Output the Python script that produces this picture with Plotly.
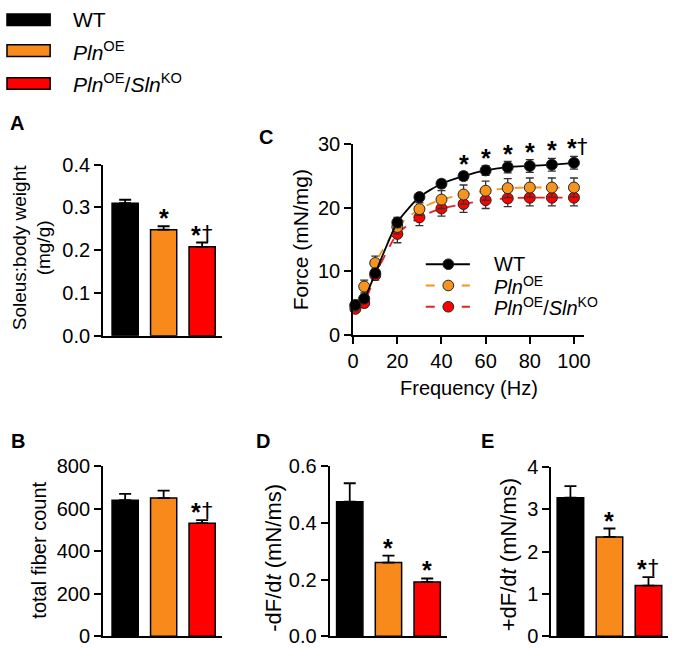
import plotly.graph_objects as go

# ---------------- data ----------------
groups = ["WT", "Pln OE", "Pln OE / Sln KO"]
group_x = [0, 1, 2]
bar_colors = ["#000000", "#F88A1C", "#FF0000"]

soleus = [0.310, 0.248, 0.208]
soleus_err = [0.008, 0.008, 0.010]
soleus_sig = ["", "*", "*†"]

fiber = [640, 650, 532]
fiber_err = [30, 35, 15]
fiber_sig = ["", "", "*†"]

neg_dfdt = [0.475, 0.260, 0.192]
neg_dfdt_err = [0.065, 0.025, 0.012]
neg_dfdt_sig = ["", "*", "*"]

pos_dfdt = [3.28, 2.35, 1.20]
pos_dfdt_err = [0.27, 0.20, 0.20]
pos_dfdt_sig = ["", "*", "*†"]

freq = [1, 5, 10, 20, 30, 40, 50, 60, 70, 80, 90, 100]
force_wt = [4.7, 5.7, 9.7, 17.7, 21.7, 23.8, 25.0, 25.9, 26.4, 26.6, 26.8, 27.1]
force_wt_err = [0.4, 0.5, 0.6, 0.8, 0.5, 0.6, 0.66, 0.76, 0.9, 1.0, 1.0, 1.0]
force_oe = [4.6, 7.6, 11.3, 17.0, 19.8, 21.3, 22.1, 22.7, 23.1, 23.2, 23.2, 23.2]
force_oe_err = [0.5, 1.0, 1.1, 1.1, 1.0, 1.4, 1.5, 1.5, 1.5, 1.5, 1.5, 1.5]
force_ko = [4.1, 5.0, 9.4, 15.9, 18.5, 19.9, 20.6, 21.2, 21.5, 21.6, 21.6, 21.6]
force_ko_err = [0.3, 0.5, 0.8, 1.4, 1.3, 1.2, 1.3, 1.3, 1.3, 1.3, 1.3, 1.3]
force_sig_x = [50, 60, 70, 80, 90, 100]
force_sig = ["*", "*", "*", "*", "*", "*†"]

W, H = 675, 657
FONT = "Liberation Sans, Arial, Helvetica, sans-serif"
FS = 20

def px(x):
    return x / W

def py(y):
    return 1 - y / H

def sig_annots(s, x, y, xref, yref, star_dx, dag_dx):
    out = []
    if "*" in s:
        out.append(dict(x=x, y=y, xref=xref, yref=yref, text="<b>*</b>", showarrow=False,
                        xshift=star_dx if "†" in s else 0, yanchor="bottom", yshift=-8,
                        font=dict(size=25, color="#000000", family=FONT)))
    if "†" in s:
        out.append(dict(x=x, y=y, xref=xref, yref=yref, text="†", showarrow=False,
                        xshift=dag_dx, yanchor="bottom", yshift=-5,
                        font=dict(size=21, color="#000000", family="DejaVu Sans, " + FONT)))
    return out

fig = go.Figure()

# ---------------- bar panels ----------------
panels = [
    ("x", "y", soleus, soleus_err, soleus_sig),
    ("x3", "y3", fiber, fiber_err, fiber_sig),
    ("x4", "y4", neg_dfdt, neg_dfdt_err, neg_dfdt_sig),
    ("x5", "y5", pos_dfdt, pos_dfdt_err, pos_dfdt_sig),
]
annotations = []
for xa, ya, vals, errs, sig in panels:
    fig.add_trace(go.Bar(
        x=group_x, y=vals, xaxis=xa, yaxis=ya, width=0.68,
        marker=dict(color=bar_colors, line=dict(color="#000000", width=1.5)),
        error_y=dict(type="data", array=errs, arrayminus=[0] * len(errs), symmetric=False,
                     color="#000000", thickness=1.8, width=6),
        showlegend=False, hoverinfo="skip", cliponaxis=False,
    ))
    for gx, v, e, s in zip(group_x, vals, errs, sig):
        annotations += sig_annots(s, gx, v + e, xa, ya, -6, 5)

# ---------------- line panel C ----------------
series = [
    (force_wt, force_wt_err, "#000000", "#000000", "solid"),
    (force_oe, force_oe_err, "#F7941D", "#F7941D", "dash"),
    (force_ko, force_ko_err, "#FF0000", "#E8202A", "dash"),
]
for vals, errs, fill, lc, dash in reversed(series):
    fig.add_trace(go.Scatter(
        x=freq, y=vals, xaxis="x2", yaxis="y2", mode="lines+markers",
        line=dict(color=lc, width=1.8, dash=dash, shape="spline", smoothing=0.6),
        marker=dict(size=11, color=fill, line=dict(color="#222222", width=1)),
        error_y=dict(type="data", array=errs, color="#333333", thickness=1.3, width=4),
        showlegend=False, hoverinfo="skip", cliponaxis=False,
    ))
wt_lookup = dict(zip(freq, zip(force_wt, force_wt_err)))
for fx, s in zip(force_sig_x, force_sig):
    v, e = wt_lookup[fx]
    annotations += sig_annots(s, fx, v + e, "x2", "y2", -2, 9)

# ---------------- axes ----------------
axis_common = dict(showline=True, linecolor="#000000", linewidth=2, ticks="outside",
                   ticklen=7, tickwidth=2, tickcolor="#000000", showgrid=False, zeroline=False,
                   tickfont=dict(size=FS, color="#000000", family=FONT), fixedrange=True)
xbar_common = dict(showline=True, linecolor="#000000", linewidth=2, showticklabels=False,
                   ticks="", showgrid=False, zeroline=False, fixedrange=True)

layout = dict(
    width=W, height=H, margin=dict(l=0, r=0, t=0, b=0),
    paper_bgcolor="white", plot_bgcolor="white", bargap=0,
    font=dict(family=FONT, size=FS, color="#000000"),
    xaxis=dict(domain=[px(99), px(220)], range=[-0.573, 2.51], anchor="y", **xbar_common),
    yaxis=dict(domain=[py(336), py(159)], range=[0, 0.4], tickvals=[0, 0.1, 0.2, 0.3, 0.4],
               tickformat=".1f", anchor="x", **axis_common),
    xaxis2=dict(domain=[px(354), px(589)], range=[0, 104.4], tickvals=[0, 20, 40, 60, 80, 100],
                anchor="y2", **axis_common),
    yaxis2=dict(domain=[py(335), py(138)], range=[0, 30], tickvals=[0, 10, 20, 30],
                anchor="x2", **axis_common),
    xaxis3=dict(domain=[px(99), px(220)], range=[-0.573, 2.51], anchor="y3", **xbar_common),
    yaxis3=dict(domain=[py(647), py(471)], range=[0, 800], tickvals=[0, 200, 400, 600, 800],
                anchor="x3", **axis_common),
    xaxis4=dict(domain=[px(330), px(450)], range=[-0.519, 2.52], anchor="y4", **xbar_common),
    yaxis4=dict(domain=[py(647), py(471)], range=[0, 0.6], tickvals=[0, 0.2, 0.4, 0.6],
                tickformat=".1f", anchor="x4", **axis_common),
    xaxis5=dict(domain=[px(556), px(675)], range=[-0.49, 2.5], anchor="y5", **xbar_common),
    yaxis5=dict(domain=[py(647), py(472)], range=[0, 4], tickvals=[0, 1, 2, 3, 4],
                anchor="x5", **axis_common),
)

def txt(x, y, text, size=FS, angle=0, xanchor="center", bold=False):
    t = "<b>" + text + "</b>" if bold else text
    return dict(x=px(x), y=py(y), xref="paper", yref="paper", text=t, showarrow=False,
                textangle=angle, xanchor=xanchor, yanchor="middle",
                font=dict(size=size, color="#000000", family=FONT))

# panel letters
annotations += [
    txt(11, 116, "A", bold=True), txt(265, 130, "C", bold=True),
    txt(12, 445, "B", bold=True), txt(262, 445, "D", bold=True), txt(491, 445, "E", bold=True),
]
# axis titles
annotations += [
    txt(26, 245, "Soleus:body weight<br>(mg/g)", size=19, angle=-90),
    txt(300, 237, "Force (mN/mg)", size=21, angle=-90),
    txt(472, 390, "Frequency (Hz)"),
    txt(34, 558, "total fiber count", angle=-90),
    txt(272, 566, "-dF/d<i>t</i> (mN/ms)", size=22, angle=-90),
    txt(512, 563, "+dF/d<i>t</i> (mN/ms)", size=22, angle=-90),
]

legend_labels = ["WT", "<i>Pln</i><sup>OE</sup>", "<i>Pln</i><sup>OE</sup>/<i>Sln</i><sup>KO</sup>"]

# top legend (swatches + labels)
shapes = []
top_rows = [9, 41, 75]
for lab, col, yy in zip(legend_labels, bar_colors, top_rows):
    shapes.append(dict(type="rect", xref="paper", yref="paper", x0=px(1), x1=px(45),
                       y0=py(yy + 6), y1=py(yy - 6), fillcolor=col,
                       line=dict(color="#000000", width=1.5)))
    annotations.append(txt(66, yy, lab, size=21, xanchor="left"))

# panel C legend
c_rows = [262, 284, 306]
for (vals, errs, fill, lc, dash), lab, yy in zip(series, legend_labels, c_rows):
    shapes.append(dict(type="line", xref="paper", yref="paper", x0=px(428), x1=px(473),
                       y0=py(yy), y1=py(yy), line=dict(color=lc, width=1.8, dash=dash)))
    shapes.append(dict(type="circle", xref="paper", yref="paper", x0=px(451 - 5.5), x1=px(451 + 5.5),
                       y0=py(yy + 5.5), y1=py(yy - 5.5), fillcolor=fill,
                       line=dict(color="#222222", width=1)))
    annotations.append(txt(496, yy, lab, size=20, xanchor="left"))

layout["annotations"] = annotations
layout["shapes"] = shapes
fig.update_layout(**layout)
fig.write_html("out.html", config={"displayModeBar": False, "staticPlot": True},
               post_script="document.body.style.margin='0';document.body.style.overflow='hidden';")
